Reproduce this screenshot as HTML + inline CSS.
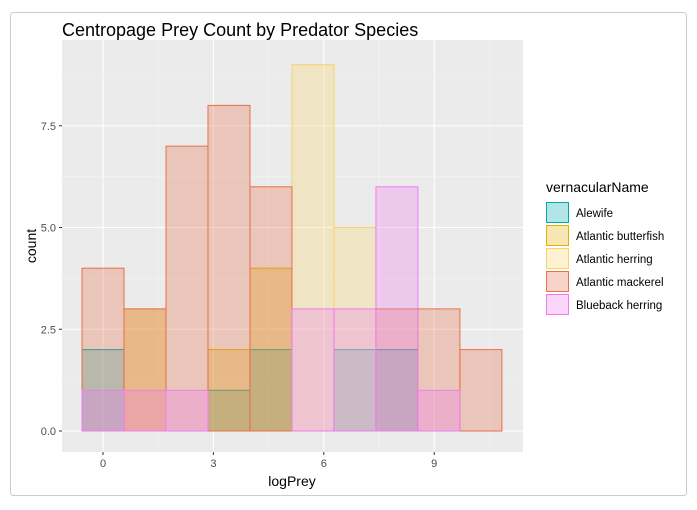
<!DOCTYPE html>
<html><head><meta charset="utf-8"><style>
body{margin:0;background:#fff;font-family:"Liberation Sans",Arial,sans-serif}
</style></head><body>
<svg width="697" height="505" viewBox="0 0 697 505" xmlns="http://www.w3.org/2000/svg" font-family="Liberation Sans, Arial, sans-serif">
<rect x="10.5" y="12.5" width="676" height="483" fill="#fff" stroke="#ccc" rx="3"/>
<text x="62" y="36" font-size="18" fill="#000">Centropage Prey Count by Predator Species</text>
<rect x="62" y="40" width="461" height="412" fill="#ebebeb"/>
<g id="grid"></g>
<g id="bars"></g>
<g id="axes"></g>
<text x="292" y="486" font-size="14" text-anchor="middle" fill="#000">logPrey</text>
<text transform="translate(36,246) rotate(-90)" font-size="14" text-anchor="middle" fill="#000">count</text>
<g id="legend">
<text x="546" y="192" font-size="14">vernacularName</text>
</g>
</svg>
<script>
const binStart = -0.57;
const binWidth = 1.141;
const species = ["Alewife","Atlantic butterfish","Atlantic herring","Atlantic mackerel","Blueback herring"];
const alewife   = [2,0,0,1,2,0,2,2,0,0];
const butterfish= [0,3,0,2,4,0,0,0,0,0];
const herring   = [0,0,0,0,0,9,5,0,0,0];
const mackerel  = [4,3,7,8,6,0,0,3,3,2];
const blueback  = [1,1,1,0,0,3,3,6,1,0];
const xTicks = [0,3,6,9];
const yTicks = [0,2.5,5,7.5];
const yTickLabels = ["0.0","2.5","5.0","7.5"];
const strokes = ["#00A8B0","#E2B100","#F7D46A","#E8704A","#F07CF0"];
const fills = ["rgba(0,168,176,0.3)","rgba(226,177,0,0.3)","rgba(247,212,106,0.3)","rgba(232,112,74,0.3)","rgba(240,124,240,0.3)"];
const NS="http://www.w3.org/2000/svg";
const sx = v => 103 + v*36.8;
const sy = v => 431 - v*40.7;
function mk(tag, attrs, parent){const e=document.createElementNS(NS,tag);for(const k in attrs)e.setAttribute(k,attrs[k]);parent.appendChild(e);return e;}
const grid=document.getElementById('grid'), bars=document.getElementById('bars'), axes=document.getElementById('axes'), legend=document.getElementById('legend');
for(let i=0;i<xTicks.length+1;i++){const v=xTicks[0]-1.5+i*3;const x=sx(v);if(x>62&&x<523){const l=mk('line',{x1:x,x2:x,y1:40,y2:452,stroke:'#f5f5f5','stroke-width':0.6},grid);}}
for(let i=0;i<yTicks.length+1;i++){const v=-1.25+i*2.5;const y=sy(v);if(y>40&&y<452){const l=mk('line',{x1:62,x2:523,y1:y,y2:y,stroke:'#f5f5f5','stroke-width':0.6},grid);}}
xTicks.forEach(t=>{const x=sx(t);const l=mk('line',{x1:x,x2:x,y1:40,y2:452,stroke:'#fff','stroke-width':1.1},grid);
 const tk=mk('line',{x1:x,x2:x,y1:452,y2:455,stroke:'#333'},axes);
 const tx=mk('text',{x:x,y:467,'font-size':11,'text-anchor':'middle',fill:'#4d4d4d'},axes);tx.textContent=t;});
yTicks.forEach((t,i)=>{const y=sy(t);const l=mk('line',{x1:62,x2:523,y1:y,y2:y,stroke:'#fff','stroke-width':1.1},grid);
 const tk=mk('line',{x1:59,x2:62,y1:y,y2:y,stroke:'#333'},axes);
 const tx=mk('text',{x:56,y:y+4,'font-size':11,'text-anchor':'end',fill:'#4d4d4d'},axes);tx.textContent=yTickLabels[i];});
const series=[alewife,butterfish,herring,mackerel,blueback];
series.forEach((arr,s)=>{arr.forEach((c,i)=>{if(!c)return;const x0=sx(binStart+i*binWidth),x1=sx(binStart+(i+1)*binWidth);
 const r=mk('rect',{x:x0,y:sy(c),width:x1-x0,height:sy(0)-sy(c),fill:fills[s],stroke:strokes[s],'stroke-width':1},bars);
 
 });});
species.forEach((n,i)=>{const y=202+i*23;
 const k=mk('rect',{x:546.5,y:y+0.5,width:22,height:20,fill:fills[i],stroke:strokes[i]},legend);
 const t=mk('text',{x:576,y:y+15,'font-size':11.5,fill:'#000'},legend);t.textContent=n;});
</script>
</body></html>
